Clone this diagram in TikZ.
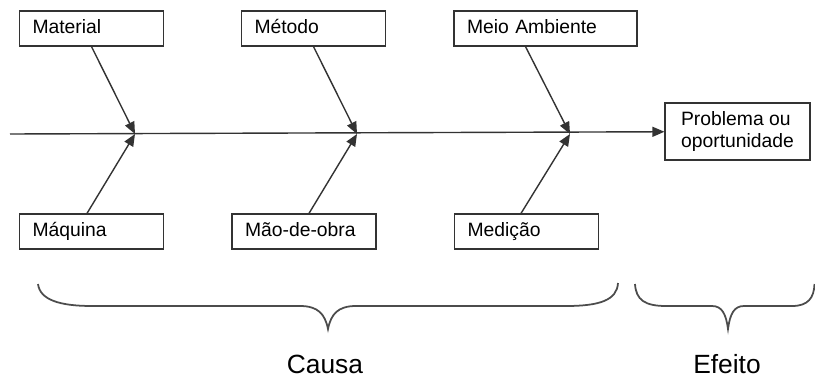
\documentclass[tikz,border=0pt]{standalone}
\usepackage{fontspec}
\setmainfont{Liberation Sans}
\usepackage{tikz}
\usetikzlibrary{arrows.meta, calc}

\begin{document}
\begin{tikzpicture}[x=0.02cm, y=-0.02cm, line width=0.8pt, draw=black!80,
    every node/.style={font=\fontsize{11}{12}\selectfont},
    causebox/.style={rectangle, draw, line width=0.7pt, minimum height=0.7cm,
        inner xsep=0.26cm, text width=2.36cm, text height=8pt, text depth=2pt,
        align=left},
    bone/.style={-{Triangle[length=0.24cm, width=0.2cm]}},
    bigtext/.style={inner sep=0pt, font=\fontsize{15}{18}\selectfont}]
    \useasboundingbox (0,0) rectangle (815,379);

    % Nodes
    \node[causebox] (mat) at (91.5,28.5) {Material};
    \node[causebox] (met) at (313.5,28.5) {Método};
    \node[causebox, text width=3.14cm] (amb) at (545.5,28.5) {Meio Ambiente};
    \node[causebox] (maq) at (91.5,231.5) {Máquina};
    \node[causebox] (mao) at (304,231.5) {Mão-de-obra};
    \node[causebox] (med) at (526.5,231.5) {Medição};
    \node[rectangle, draw, line width=0.7pt, minimum width=2.9cm, minimum height=1.14cm,
        align=left] (prob) at (737.5,131.5) {Problema ou\\oportunidade};

    \coordinate (start) at (10,134);
    \coordinate (j1) at (135,134);
    \coordinate (j2) at (357,134);
    \coordinate (j3) at (570,134);

    % Edges
    \draw[bone] (start) -- (prob);

    \draw[bone] (mat.south) -- (j1);
    \draw[bone] (maq.north) ++(-0.09cm,0) -- (j1);

    \draw[bone] (met.south) -- (j2);
    \draw[bone] (mao.north) ++(0.1cm,0) -- (j2);

    \draw[bone] (amb.south) ++(-0.4cm,0) -- (j3);
    \draw[bone] (med.north) ++(-0.11cm,0) -- (j3);

    % Braces
    \draw[line width=1pt, black!70] (38,284) .. controls (40,300) and (60,306) .. (92,306)
        -- (300,306) .. controls (318,306) and (325,314) .. (328,329)
        .. controls (331,314) and (338,306) .. (356,306)
        -- (566,306) .. controls (600,306) and (617,300) .. (618,283);
    \draw[line width=1pt, black!70] (635,284) .. controls (636,300) and (645,306) .. (666,306)
        -- (712,306) .. controls (722,306) and (726,314) .. (728,329)
        .. controls (730,314) and (734,306) .. (744,306)
        -- (792,306) .. controls (808,306) and (814,298) .. (814.5,284);

    \node[bigtext] (causa) at (325,364) {Causa};
    \node[bigtext] (efeito) at (727,364) {Efeito};

\end{tikzpicture}
\end{document}
